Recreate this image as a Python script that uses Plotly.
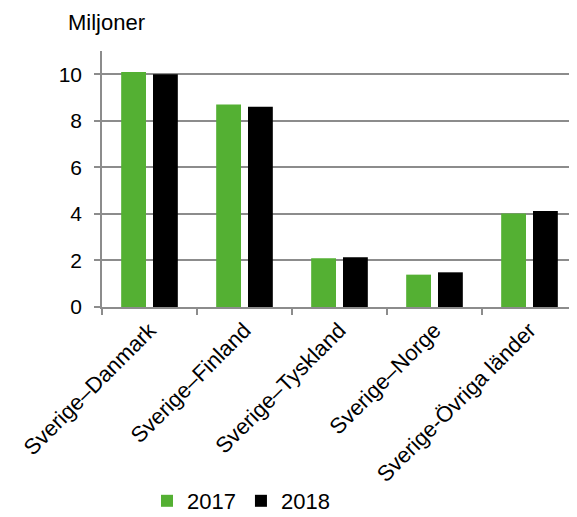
import plotly.graph_objects as go

categories = ["Sverige–Danmark", "Sverige–Finland", "Sverige–Tyskland", "Sverige–Norge", "Sverige-Övriga länder"]
values_2017 = [10.1, 8.7, 2.1, 1.39, 4.02]
values_2018 = [10.0, 8.6, 2.14, 1.49, 4.13]
series_names = ["2017", "2018"]

FONT = "Liberation Sans, Arial, sans-serif"
GRID = "#8c8c8c"
W, H = 569, 509  # page body has an 8px margin

fig = go.Figure()
fig.add_trace(go.Bar(x=categories, y=values_2017, name=series_names[0], marker_color="#54b033",
                     marker_line_width=0))
fig.add_trace(go.Bar(x=categories, y=values_2018, name=series_names[1], marker_color="#000000",
                     marker_line_width=0))

fig.update_layout(
    width=W, height=H,
    margin=dict(l=94, r=0, t=43, b=210, autoexpand=False),
    plot_bgcolor="white", paper_bgcolor="white",
    font=dict(family=FONT, size=21, color="#000000"),
    barmode="group", bargap=0.33, bargroupgap=0.22,
    title=dict(text="Miljoner", x=60 / W, xref="container", xanchor="left",
               y=1 - 14 / H, yref="container", yanchor="middle",
               font=dict(family=FONT, size=22, color="#000000")),
    legend=dict(orientation="h", x=(241 - 102) / 475, xanchor="center",
                y=(307 - 501) / 256, yanchor="middle",
                font=dict(family=FONT, size=22), traceorder="normal"),
    showlegend=True,
)
fig.update_xaxes(
    automargin=False,
    showgrid=False, showline=True, linecolor=GRID, linewidth=1.5,
    ticks="outside", tickson="boundaries", tickcolor=GRID, ticklen=6, tickwidth=1.5,
    tickangle=-45, tickfont=dict(family=FONT, size=22),
)
fig.update_yaxes(
    automargin=False,
    range=[0, 11], tick0=0, dtick=2, showgrid=True, gridcolor=GRID, gridwidth=1.5,
    showline=True, linecolor=GRID, linewidth=1.5, zeroline=False,
    ticks="outside", tickcolor=GRID, ticklen=6, tickwidth=1.5, ticklabelstandoff=8,
    tickfont=dict(family=FONT, size=21),
)

fig.write_html("out.html")
